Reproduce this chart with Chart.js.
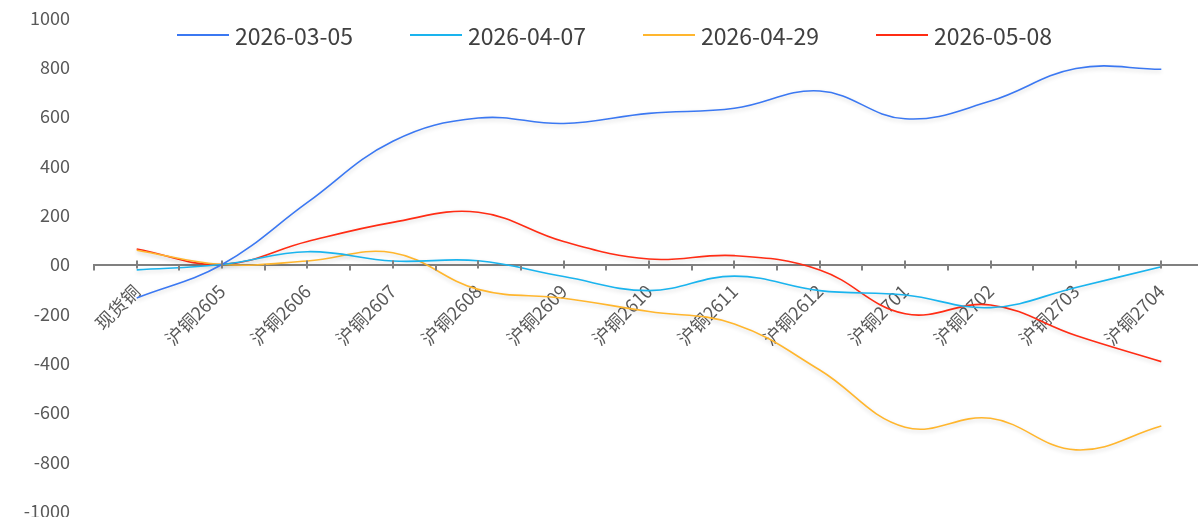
<!DOCTYPE html>
<html>
<head>
<meta charset="utf-8">
<script src="https://cdn.jsdelivr.net/npm/chart.js@4.4.1/dist/chart.umd.min.js"></script>
<style>
  html, body { margin: 0; padding: 0; background: #fff; overflow: hidden; width: 1198px; height: 517px; }
  #wrap { position: relative; width: 1210px; height: 530px; }
  #legend { position: absolute; left: 177px; top: 21px; display: flex; font-family: "Noto Sans CJK SC", "Noto Sans", sans-serif; font-size: 23px; color: #404040; }
  .item { width: 233px; display: flex; align-items: center; height: 28px; }
  .swatch { width: 52px; height: 2px; margin-right: 6px; }
</style>
</head>
<body>
<div id="wrap">
  <canvas id="c" width="1210" height="530"></canvas>
  <div id="legend"></div>
</div>
<script>
const categories = ['现货铜','沪铜2605','沪铜2606','沪铜2607','沪铜2608','沪铜2609','沪铜2610','沪铜2611','沪铜2612','沪铜2701','沪铜2702','沪铜2703','沪铜2704'];
const seriesNames = ['2026-03-05','2026-04-07','2026-04-29','2026-05-08'];
const s0305 = [-136, 0, 252, 500, 594, 572, 613, 634, 704, 591, 663, 795, 792];
const s0407 = [-22, 0, 52, 14, 15, -49, -106, -47, -106, -124, -175, -93, -9];
const s0429 = [58, 0, 14, 48, -101, -137, -191, -241, -428, -660, -624, -752, -655];
const s0508 = [63, 0, 93, 171, 212, 93, 22, 36, -22, -200, -164, -288, -394];
const yMin = -1000, yMax = 1000, yStep = 200;

const colors = ['#3b78f2', '#1ab4ee', '#ffb62e', '#ff2c14'];
const seriesData = [s0305, s0407, s0429, s0508];

const legend = document.getElementById('legend');
seriesNames.forEach((n, i) => {
  const it = document.createElement('div'); it.className = 'item';
  const sw = document.createElement('span'); sw.className = 'swatch'; sw.style.background = colors[i];
  const tx = document.createElement('span'); tx.textContent = n;
  it.appendChild(sw); it.appendChild(tx); legend.appendChild(it);
});

const shadowPlugin = {
  id: 'shadow',
  beforeDatasetsDraw(chart) {
    const ctx = chart.ctx; ctx.save();
    ctx.shadowColor = 'rgba(0,0,0,0.16)'; ctx.shadowBlur = 4; ctx.shadowOffsetY = 2;
  },
  afterDatasetsDraw(chart) { chart.ctx.restore(); }
};

const tickPlugin = {
  id: 'xticks',
  afterDraw(chart) {
    const xs = chart.scales.x, ys = chart.scales.y, ctx = chart.ctx;
    const y0 = ys.getPixelForValue(0);
    ctx.save();
    ctx.strokeStyle = '#808080'; ctx.lineWidth = 2;
    const n = categories.length;
    const step = (xs.right - xs.left) / n;
    for (let i = 0; i < n; i++) {
      const x = Math.round(xs.getPixelForValue(i));
      ctx.beginPath(); ctx.moveTo(x, y0 - 4); ctx.lineTo(x, y0 + 4); ctx.stroke();
    }
    for (let i = 0; i <= n; i++) {
      const x = Math.round(xs.getPixelForValue(0) - step / 2 + i * step);
      ctx.beginPath(); ctx.moveTo(x, y0); ctx.lineTo(x, y0 + 6); ctx.stroke();
    }
    ctx.restore();
  }
};

new Chart(document.getElementById('c'), {
  type: 'line',
  data: {
    labels: categories,
    datasets: seriesNames.map((n, i) => ({
      label: n,
      data: seriesData[i],
      borderColor: colors[i],
      backgroundColor: colors[i],
      borderWidth: 1.6,
      pointRadius: 0,
      tension: 0.4,
      fill: false
    }))
  },
  options: {
    responsive: false,
    animation: false,
    layout: { padding: { top: 18, bottom: 19, left: 0, right: 6 } },
    plugins: { legend: { display: false }, tooltip: { enabled: false } },
    scales: {
      x: {
        type: 'category',
        offset: true,
        position: { y: 0 },
        grid: { display: false, drawTicks: false },
        border: { display: true, color: '#808080', width: 2 },
        afterFit(scale) { scale.height = 0; scale.paddingTop = 0; scale.paddingBottom = 0; },
        ticks: {
          autoSkip: false,
          maxRotation: 45, minRotation: 45,
          padding: 16,
          color: '#595959',
          font: { family: '"Noto Sans CJK SC", sans-serif', size: 18 }
        }
      },
      y: {
        min: yMin, max: yMax,
        grid: { display: false, drawTicks: false },
        border: { display: false },
        afterFit(scale) { scale.width = 94; scale.paddingTop = 0; scale.paddingBottom = 0; },
        ticks: {
          stepSize: yStep,
          padding: 24,
          color: '#595959',
          font: { family: '"Noto Sans CJK SC", sans-serif', size: 18 },
          callback: (v) => v === 0 ? '00' : String(v)
        }
      }
    }
  },
  plugins: [shadowPlugin, tickPlugin]
});
</script>
</body>
</html>
